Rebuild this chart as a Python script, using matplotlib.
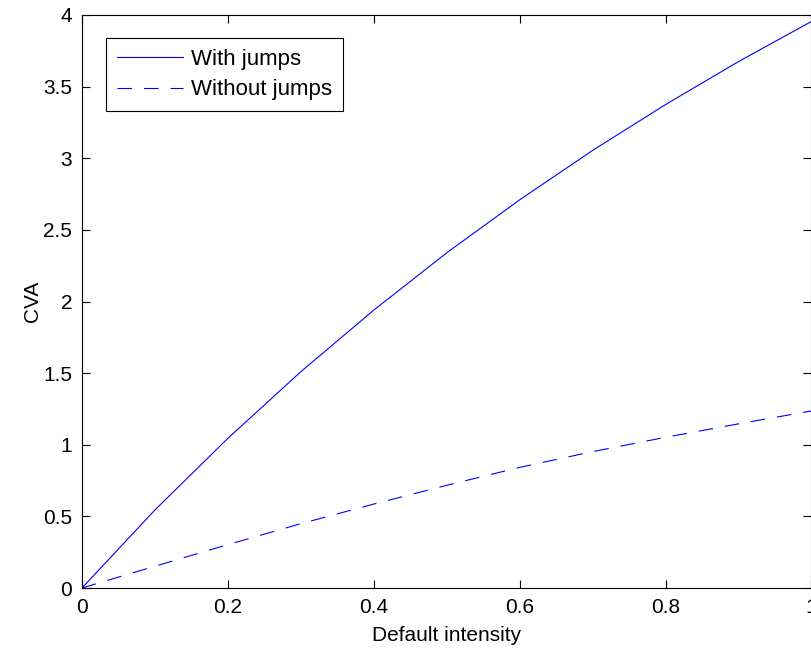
import matplotlib
matplotlib.use("Agg")
import matplotlib.pyplot as plt

# Default intensity grid and CVA values for both models
intensity = [0.0, 0.1, 0.2, 0.3, 0.4, 0.5, 0.6, 0.7, 0.8, 0.9, 1.0]
cva_with_jumps = [0.0, 0.545, 1.045, 1.51, 1.94, 2.34, 2.71, 3.055, 3.375, 3.675, 3.955]
cva_without_jumps = [0.0, 0.152, 0.303, 0.449, 0.586, 0.717, 0.842, 0.952, 1.052, 1.146, 1.236]

x_ticks = [0, 0.2, 0.4, 0.6, 0.8, 1.0]
x_tick_labels = ["0", "0.2", "0.4", "0.6", "0.8", "1"]
y_ticks = [0, 0.5, 1, 1.5, 2, 2.5, 3, 3.5, 4]
y_tick_labels = ["0", "0.5", "1", "1.5", "2", "2.5", "3", "3.5", "4"]

plt.rcParams["font.family"] = ["Liberation Sans", "DejaVu Sans"]
plt.rcParams["font.size"] = 15
plt.rcParams["lines.scale_dashes"] = False

W, H = 811, 650
fig = plt.figure(figsize=(W / 100, H / 100), dpi=100)
ax = fig.add_axes([82 / W, 62 / H, 729.5 / W, 573 / H])

ax.plot(intensity, cva_with_jumps, color=(0, 0, 1), lw=0.8, label="With jumps")
ax.plot(intensity, cva_without_jumps, color=(0, 0, 1), lw=0.8,
        dashes=(10.5, 8.6), label="Without jumps")

ax.set_xlim(0, 1)
ax.set_ylim(0, 4)
ax.set_xticks(x_ticks)
ax.set_xticklabels(x_tick_labels)
ax.set_yticks(y_ticks)
ax.set_yticklabels(y_tick_labels)
ax.tick_params(direction="in", length=5.5, width=0.8, top=True, right=True,
               labelsize=15, pad=7, colors="black")
for s in ax.spines.values():
    s.set_linewidth(0.8)

ax.set_xlabel("Default intensity", fontsize=15, labelpad=6.5)
ax.set_ylabel("CVA", fontsize=15, labelpad=1)

leg = ax.legend(loc="upper left", bbox_to_anchor=(0.0323, 0.96), borderaxespad=0,
                fancybox=False, framealpha=1, edgecolor="black", fontsize=16,
                handlelength=3.0, handletextpad=0.35, borderpad=0.5,
                labelspacing=0.42)
leg.get_frame().set_linewidth(0.8)

fig.savefig("out.png", dpi=100)
